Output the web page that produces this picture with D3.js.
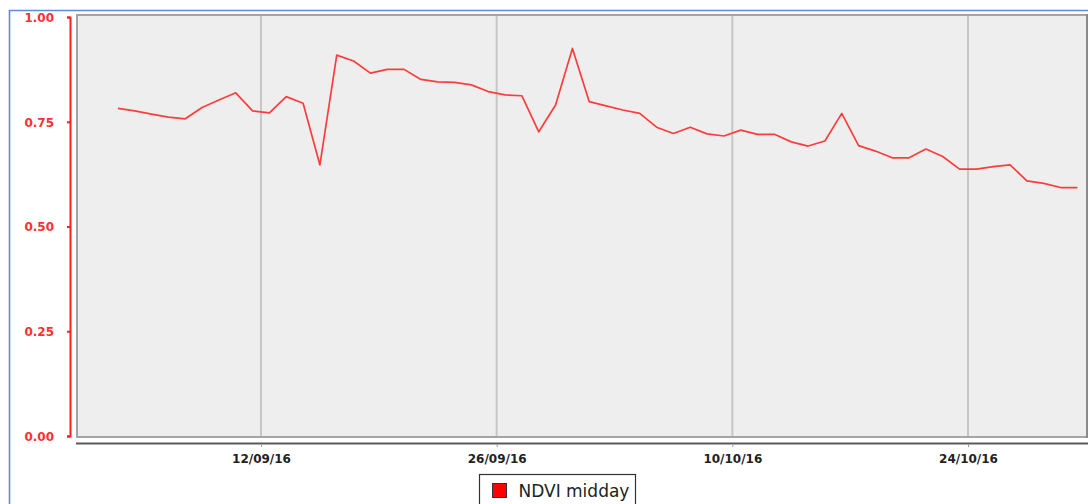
<!DOCTYPE html>
<html>
<head>
<meta charset="utf-8">
<script src="https://cdn.jsdelivr.net/npm/d3@7"></script>
<style>
    body { margin: 0; background: #fff; }
    svg { display: block; }
</style>
</head>
<body>
<svg width="1088" height="504"></svg>
<script>
"use strict";

// first reading is 03/09/16, then one reading per day at midday
var firstDay = "2016-09-03T12:00:00Z";

var ndviMidday = [
    0.782, 0.776, 0.768, 0.761, 0.757, 0.784, 0.802, 0.819, 0.776, 0.771,
    0.810, 0.794, 0.647, 0.909, 0.895, 0.866, 0.875, 0.875, 0.851, 0.845,
    0.844, 0.838, 0.822, 0.814, 0.812, 0.726, 0.790, 0.925, 0.798, 0.788,
    0.778, 0.770, 0.737, 0.722, 0.737, 0.721, 0.716, 0.730, 0.720, 0.720,
    0.702, 0.692, 0.704, 0.770, 0.693, 0.680, 0.664, 0.664, 0.685, 0.667,
    0.637, 0.637, 0.643, 0.647, 0.609, 0.603, 0.593, 0.593
];

var xTickDates = ["2016-09-12", "2016-09-26", "2016-10-10", "2016-10-24"];
var yTickValues = [0, 0.25, 0.5, 0.75, 1];
var seriesName = "NDVI midday";

var plotLeft = 77, plotRight = 1087, plotTop = 15, plotBottom = 437;

var svg = d3.select("svg");

var start = new Date(firstDay);
var points = ndviMidday.map(function (v, i) {
    return { date: d3.utcDay.offset(start, i), value: v };
});
var tickDates = xTickDates.map(function (s) { return new Date(s + "T00:00:00Z"); });

var xScale = d3.scaleUtc()
    .domain([tickDates[0], tickDates[3]])
    .range([261, 968]);

var yScale = d3.scaleLinear()
    .domain([0, 1])
    .range([436, 17]);

// outer panel border
svg.append("path")
    .attr("d", "M9.5,504V10.5H1088")
    .attr("fill", "none")
    .attr("stroke", "#5b8ed6")
    .attr("stroke-width", 1.6);

// plot background
svg.append("rect")
    .attr("x", plotLeft)
    .attr("y", plotTop)
    .attr("width", plotRight - plotLeft)
    .attr("height", plotBottom - plotTop)
    .attr("fill", "#eeeeee")
    .attr("stroke", "#a4a4a4")
    .attr("stroke-width", 2);

svg.append("line")
    .attr("x1", plotRight).attr("x2", plotRight)
    .attr("y1", plotTop - 1).attr("y2", plotBottom + 1)
    .attr("stroke", "#8a8a8a")
    .attr("stroke-width", 2);

// vertical grid
svg.append("g")
    .selectAll("line")
    .data(tickDates)
    .enter()
    .append("line")
    .attr("x1", function (d) { return xScale(d); })
    .attr("x2", function (d) { return xScale(d); })
    .attr("y1", plotTop + 1)
    .attr("y2", plotBottom - 1)
    .attr("stroke", "#c6c6c6")
    .attr("stroke-width", 2);

// y axis
var yAxis = svg.append("g")
    .attr("transform", "translate(70,0)")
    .call(d3.axisLeft(yScale)
        .tickValues(yTickValues)
        .tickFormat(d3.format(".2f"))
        .tickSize(3)
        .tickPadding(13));

yAxis.select(".domain")
    .attr("stroke", "#ff2020")
    .attr("stroke-width", 2);
yAxis.selectAll(".tick line")
    .attr("stroke", "#ff2020")
    .attr("stroke-width", 2);
yAxis.selectAll(".tick text")
    .attr("fill", "#ff3030")
    .attr("dy", "0.36em")
    .style("font-family", "'DejaVu Sans', sans-serif")
    .style("font-weight", "bold")
    .style("font-size", "12px");

// x axis
svg.append("line")
    .attr("x1", plotLeft - 1).attr("x2", 1088)
    .attr("y1", 443.5).attr("y2", 443.5)
    .attr("stroke", "#5a5a5a")
    .attr("stroke-width", 2);

var xAxis = svg.append("g")
    .attr("transform", "translate(0,444)")
    .call(d3.axisBottom(xScale)
        .tickValues(tickDates)
        .tickFormat(d3.utcFormat("%d/%m/%y"))
        .tickSize(3)
        .tickPadding(7));

xAxis.select(".domain").remove();
xAxis.selectAll(".tick line")
    .attr("stroke", "#9a9a9a");
xAxis.selectAll(".tick text")
    .attr("fill", "#222")
    .style("font-family", "'DejaVu Sans', sans-serif")
    .style("font-weight", "bold")
    .style("font-size", "12px");

// the series
var line = d3.line()
    .x(function (d) { return xScale(d.date); })
    .y(function (d) { return yScale(d.value); });

svg.append("path")
    .datum(points)
    .attr("d", line)
    .attr("fill", "none")
    .attr("stroke", "#ff3c3c")
    .attr("stroke-width", 1.7)
    .attr("stroke-linejoin", "round");

// legend
var legend = svg.append("g")
    .attr("transform", "translate(479.5,474.5)");

legend.append("rect")
    .attr("width", 156)
    .attr("height", 40)
    .attr("fill", "#fff")
    .attr("stroke", "#333")
    .attr("stroke-width", 1.2);

legend.append("rect")
    .attr("x", 13)
    .attr("y", 9)
    .attr("width", 14)
    .attr("height", 14)
    .attr("fill", "#ff0000")
    .attr("stroke", "#333");

legend.append("text")
    .attr("x", 39)
    .attr("y", 22.5)
    .attr("fill", "#222")
    .style("font-family", "'DejaVu Sans', sans-serif")
    .style("font-size", "17px")
    .text(seriesName);
</script>
</body>
</html>
